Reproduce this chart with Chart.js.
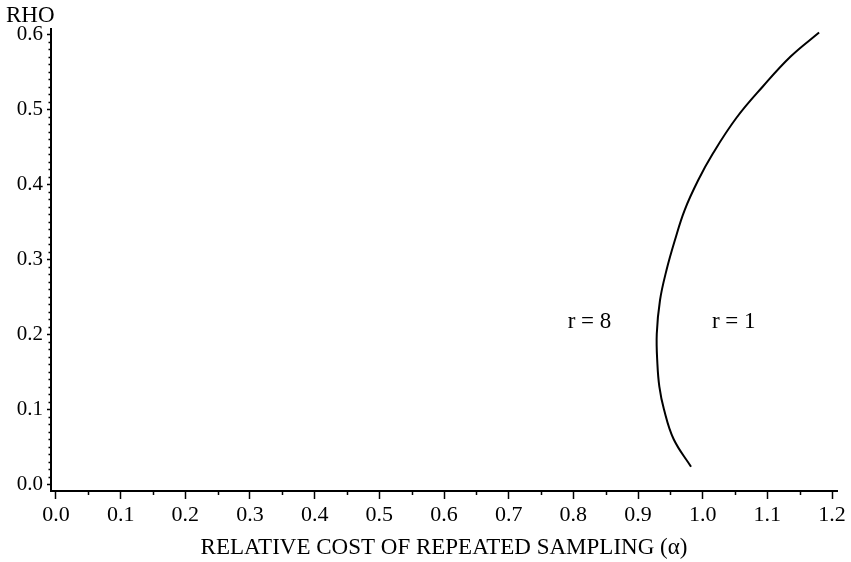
<!DOCTYPE html>
<html>
<head>
<meta charset="utf-8">
<script src="https://cdn.jsdelivr.net/npm/chart.js@4/dist/chart.umd.min.js"></script>
<style>
  html, body { margin: 0; padding: 0; background: #fff; }
  #wrap { width: 851px; height: 562px; position: relative; }
</style>
</head>
<body>
<div id="wrap"><canvas id="rhoChart"></canvas></div>
<script>
// curve (alpha, rho)
const alphaValues = [1.180, 1.136, 1.093, 1.052, 1.016, 0.993, 0.972, 0.957, 0.944, 0.934, 0.929, 0.930, 0.933, 0.940, 0.955, 0.982];
const rhoValues   = [0.602, 0.570, 0.530, 0.488, 0.441, 0.405, 0.365, 0.325, 0.285, 0.245, 0.200, 0.160, 0.130, 0.100, 0.060, 0.023];

const xTicks = [0.0, 0.1, 0.2, 0.3, 0.4, 0.5, 0.6, 0.7, 0.8, 0.9, 1.0, 1.1, 1.2];
const yTicks = [0.0, 0.1, 0.2, 0.3, 0.4, 0.5, 0.6];

const curveLabels = ["r = 8", "r = 1"];
const labelAlpha = [0.825, 1.048];
const labelRho = [0.216, 0.216];

const serif = "'Liberation Serif', 'DejaVu Serif', serif";

document.addEventListener("DOMContentLoaded", () => {
    const points = alphaValues.map((a, i) => ({ x: a, y: rhoValues[i] }));

    // minor ticks, curve labels and the RHO heading
    const extras = {
        id: 'extras',
        afterDraw(chart) {
            const ctx = chart.ctx;
            const xs = chart.scales.x, ys = chart.scales.y;
            ctx.save();
            ctx.strokeStyle = '#000';
            ctx.lineWidth = 1.5;
            ctx.beginPath();
            for (let i = 0; i <= 60; i++) {
                if (i % 10 === 0) continue;
                const py = Math.round(ys.getPixelForValue(i / 100)) + 0.5;
                ctx.moveTo(xs.left - 2.5, py);
                ctx.lineTo(xs.left, py);
            }
            for (let i = 1; i < 24; i += 2) {
                const px = Math.round(xs.getPixelForValue(i / 20)) + 0.5;
                ctx.moveTo(px, ys.bottom);
                ctx.lineTo(px, ys.bottom + 4);
            }
            ctx.stroke();

            ctx.fillStyle = '#000';
            ctx.font = "23px " + serif;
            ctx.textAlign = 'center';
            ctx.textBaseline = 'middle';
            curveLabels.forEach((t, i) => {
                ctx.fillText(t, xs.getPixelForValue(labelAlpha[i]), ys.getPixelForValue(labelRho[i]));
            });

            ctx.font = "23px " + serif;
            ctx.textAlign = 'left';
            ctx.textBaseline = 'alphabetic';
            ctx.fillText("RHO", 6, 22);
            ctx.restore();
        }
    };

    const ctx1 = document.getElementById('rhoChart').getContext('2d');
    new Chart(ctx1, {
        type: 'scatter',
        data: {
            datasets: [{
                data: points,
                showLine: true,
                borderColor: '#000',
                borderWidth: 2,
                pointRadius: 0,
                tension: 0.4,
                fill: false
            }]
        },
        options: {
            responsive: true,
            maintainAspectRatio: false,
            animation: false,
            layout: { padding: { top: 29, right: 14, left: 0, bottom: 0 } },
            plugins: { legend: { display: false }, tooltip: { enabled: false } },
            scales: {
                x: {
                    type: 'linear',
                    min: -0.0077,
                    max: 1.2077,
                    afterBuildTicks: (s) => { s.ticks = xTicks.map(v => ({ value: v })); },
                    afterFit: (s) => { s.height = 71; },
                    grid: { drawOnChartArea: false, tickLength: 8, tickColor: '#000', tickWidth: 1.5 },
                    border: { display: true, color: '#000', width: 2 },
                    ticks: {
                        color: '#000',
                        padding: 3,
                        maxRotation: 0,
                        font: { family: serif, size: 22 },
                        callback: (v) => Number(v).toFixed(1)
                    },
                    title: {
                        display: true,
                        text: 'RELATIVE COST OF REPEATED SAMPLING (\u03b1)',
                        color: '#000',
                        font: { family: serif, size: 23 },
                        padding: { top: 0, bottom: 0 }
                    }
                },
                y: {
                    type: 'linear',
                    min: -0.0093,
                    max: 0.6067,
                    afterBuildTicks: (s) => { s.ticks = yTicks.map(v => ({ value: v })); },
                    afterFit: (s) => { s.width = 51; },
                    grid: { drawOnChartArea: false, tickLength: 4, tickColor: '#000', tickWidth: 1.5 },
                    border: { display: true, color: '#000', width: 2 },
                    ticks: {
                        color: '#000',
                        padding: 4,
                        font: { family: serif, size: 21 },
                        callback: (v) => Number(v).toFixed(1)
                    }
                }
            }
        },
        plugins: [extras]
    });
});
</script>
</body>
</html>
